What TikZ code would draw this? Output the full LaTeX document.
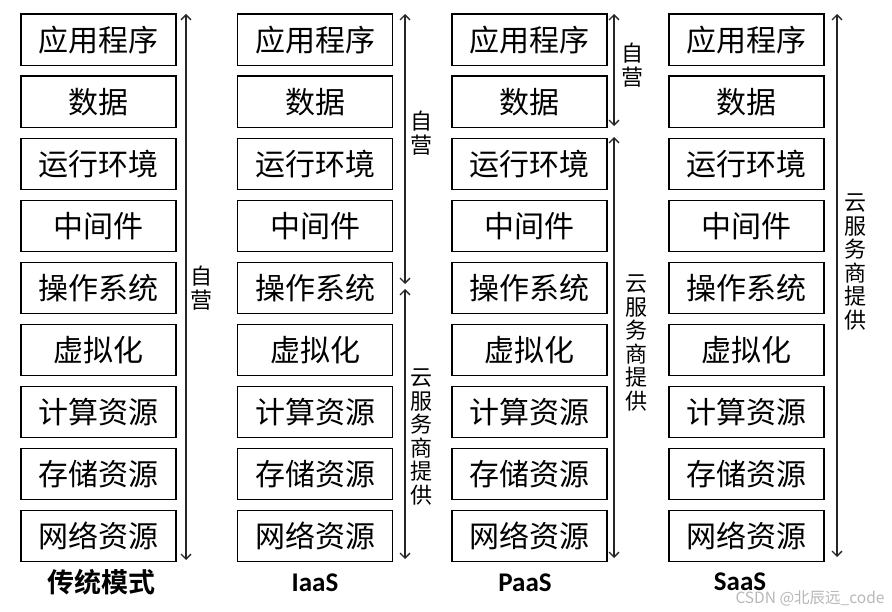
\documentclass[tikz,border=0pt]{standalone}
\usepackage{fontspec}
\setmainfont{Liberation Serif}
\newfontfamily\cjk{Noto Sans CJK SC}
\newfontfamily\cjkb{Noto Sans CJK SC Bold}
\newfontfamily\latb{Carlito}
\usetikzlibrary{arrows.meta}
\begin{document}
\begin{tikzpicture}[x=1pt,y=-1pt,
  layer/.style={draw=black,line width=1.1pt,minimum width=155pt,minimum height=51.5pt,inner sep=0pt,font=\cjk\fontsize{30}{30}\selectfont},
  span/.style={line width=1.3pt,draw=black!85,{Straight Barb[length=5pt,width=10pt]}-{Straight Barb[length=5pt,width=10pt]}},
  vlab/.style={align=center,inner sep=0pt,font=\cjk\fontsize{22}{23.5}\selectfont},
  title/.style={inner sep=0pt,font=\fontsize{22}{22}\selectfont}]
\useasboundingbox (0,0) rectangle (892,612);
\fill[white] (0,0) rectangle (892,612);
\def\labels{应用程序,数据,运行环境,中间件,操作系统,虚拟化,计算资源,存储资源,网络资源}
\foreach \cx/\c in {98.5/a,315/b,529.5/c,746.5/d}{
  \foreach \t [count=\i from 0] in \labels {
    \node[layer] (\c\i) at (\cx,{39.75+62.05*\i}) {\t};
  }
}
% column 1
\coordinate (a1t) at (186,14);
\coordinate (a1b) at (186,560);
\draw[span] (a1t) -- (a1b);
\node[vlab] (a1l) at (201,288) {自\\营};
% column 2
\coordinate (b1t) at (405,14);
\coordinate (b1b) at (405,284);
\coordinate (b2t) at (405,289);
\coordinate (b2b) at (405,559);
\draw[span] (b1t) -- (b1b);
\draw[span] (b2t) -- (b2b);
\node[vlab] (b1l) at (421,133) {自\\营};
\node[vlab] (b2l) at (421,437) {云\\服\\务\\商\\提\\供};
% column 3
\coordinate (c1t) at (614,14);
\coordinate (c1b) at (614,126);
\coordinate (c2t) at (614,137);
\coordinate (c2b) at (614,558);
\draw[span] (c1t) -- (c1b);
\draw[span] (c2t) -- (c2b);
\node[vlab] (c1l) at (632,65) {自\\营};
\node[vlab] (c2l) at (636,343) {云\\服\\务\\商\\提\\供};
% column 4
\coordinate (d1t) at (837,14);
\coordinate (d1b) at (837,557);
\draw[span] (d1t) -- (d1b);
\node[vlab] (d1l) at (855,262) {云\\服\\务\\商\\提\\供};
% titles
\node[title,font=\cjkb\fontsize{27}{27}\selectfont] (ta) at (101,582) {传统模式};
\node[title,font=\latb\bfseries\fontsize{27}{27}\selectfont] (tb) at (315,583) {IaaS};
\node[title,font=\latb\bfseries\fontsize{27}{27}\selectfont] (tc) at (525,583) {PaaS};
\node[title,font=\latb\bfseries\fontsize{27}{27}\selectfont] (td) at (740,582) {SaaS};
% watermark
\node[inner sep=0pt,text=black!28,font=\cjk\fontsize{15.5}{15.5}\selectfont] (wm) at (810,598) {CSDN @北辰远\_code};
\end{tikzpicture}
\end{document}
